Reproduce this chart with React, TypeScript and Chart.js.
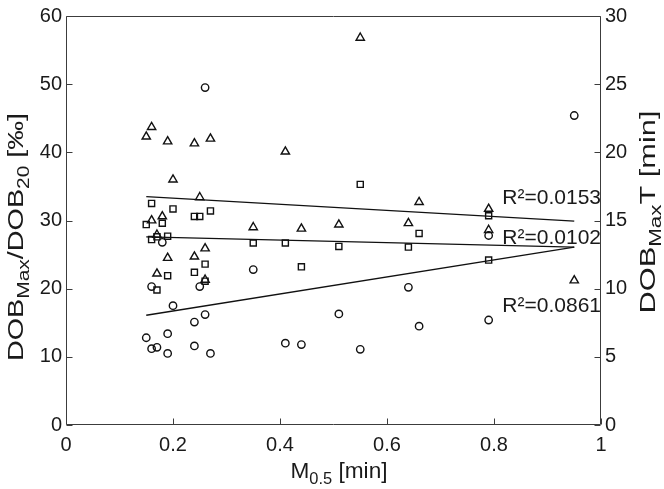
import React, { useEffect, useRef } from "react";
import { Chart, registerables } from "chart.js";

Chart.register(...registerables);

// ---- data ----
const xTickValues = [0, 0.2, 0.4, 0.6, 0.8, 1];
const xTickLabels = ["0", "0.2", "0.4", "0.6", "0.8", "1"];
const yLeftTickValues = [0, 10, 20, 30, 40, 50, 60];
const yLeftTickLabels = ["0", "10", "20", "30", "40", "50", "60"];
const yRightTickValues = [0, 5, 10, 15, 20, 25, 30];
const yRightTickLabels = ["0", "5", "10", "15", "20", "25", "30"];

// triangles: DOBMax/DOB20 [‰]
const triX = [0.15, 0.16, 0.16, 0.17, 0.17, 0.18, 0.19, 0.19, 0.2, 0.24, 0.24, 0.25, 0.26, 0.26, 0.27, 0.35, 0.41, 0.44, 0.51, 0.55, 0.64, 0.66, 0.79, 0.79, 0.95];
const triY = [42.3, 43.7, 30.0, 27.9, 22.2, 30.6, 41.6, 24.5, 36.0, 41.3, 24.7, 33.4, 25.9, 21.3, 42.0, 29.0, 40.1, 28.8, 29.4, 56.8, 29.6, 32.7, 31.7, 28.6, 21.2];

// squares: DOBMax/DOB20 [‰]
const sqX = [0.15, 0.16, 0.16, 0.17, 0.17, 0.18, 0.19, 0.19, 0.2, 0.24, 0.24, 0.25, 0.26, 0.26, 0.27, 0.35, 0.41, 0.44, 0.51, 0.55, 0.64, 0.66, 0.79, 0.79];
const sqY = [29.4, 32.5, 27.2, 27.6, 19.8, 29.6, 27.7, 21.9, 31.7, 30.6, 22.4, 30.6, 23.6, 21.1, 31.4, 26.7, 26.7, 23.2, 26.2, 35.3, 26.1, 28.1, 30.7, 24.2];

// circles: DOBMax T [min] (right axis)
const circX = [0.15, 0.16, 0.16, 0.17, 0.18, 0.19, 0.19, 0.2, 0.24, 0.24, 0.25, 0.26, 0.26, 0.27, 0.35, 0.41, 0.44, 0.51, 0.55, 0.64, 0.66, 0.79, 0.79, 0.95];
const circY = [6.4, 10.15, 5.6, 5.7, 13.4, 6.7, 5.25, 8.75, 7.55, 5.8, 10.15, 8.1, 24.75, 5.25, 11.4, 6.0, 5.9, 8.15, 5.55, 10.1, 7.25, 13.9, 7.7, 22.7];

// regression line end points
const fitX = [0.15, 0.95];
const fitTri = [33.5, 29.9];
const fitSq = [27.6, 26.1];
const fitCirc = [8.05, 13.05];

// R² annotations (x, y in left-axis units)
const r2Texts = ["R²=0.0153", "R²=0.0102", "R²=0.0861"];
const r2AnchorX = [1, 1, 1];
const r2AnchorY = [32.4, 26.6, 16.6];

const FONT = '"Liberation Sans", Arial, Helvetica, sans-serif';
const INK = "#1a1a1a";
const AXIS = "#3c3c3c";

const pts = (xs: number[], ys: number[]) => xs.map((x, i) => ({ x, y: ys[i] }));

type Part = { t: string; sub?: boolean };

// draws rich text centered at the origin (baseline y = 0), stretched to a given length
function drawRich(
  ctx: CanvasRenderingContext2D,
  parts: Part[],
  size: number,
  subSize: number,
  subDrop: number,
  targetLen: number
) {
  const widths = parts.map((p) => {
    ctx.font = `${p.sub ? subSize : size}px ${FONT}`;
    return ctx.measureText(p.t).width;
  });
  const total = widths.reduce((a, b) => a + b, 0);
  const k = targetLen / total;
  ctx.scale(k, 1);
  let x = -total / 2;
  ctx.textAlign = "left";
  ctx.textBaseline = "alphabetic";
  parts.forEach((p, i) => {
    ctx.font = `${p.sub ? subSize : size}px ${FONT}`;
    ctx.fillText(p.t, x, p.sub ? subDrop : 0);
    x += widths[i];
  });
}

const framePlugin = {
  id: "frameTicks",
  afterDatasetsDraw(chart: any) {
    const { ctx, chartArea, scales } = chart;
    const { left, right, top, bottom } = chartArea;
    const L = Math.round(left) + 0.5;
    const R = Math.round(right) - 0.5;
    const T = Math.round(top) + 0.5;
    const B = Math.round(bottom) - 0.5;
    ctx.save();
    ctx.strokeStyle = AXIS;
    ctx.lineWidth = 1;
    ctx.beginPath();
    ctx.rect(L, T, R - L, B - T);
    ctx.stroke();
    const tl = 6;
    ctx.beginPath();
    xTickValues.forEach((v) => {
      const px = Math.round(scales.x.getPixelForValue(v)) + 0.5;
      ctx.moveTo(px, B);
      ctx.lineTo(px, B - tl);
    });
    yLeftTickValues.forEach((v) => {
      const py = Math.round(scales.y.getPixelForValue(v)) + 0.5;
      ctx.moveTo(L, py);
      ctx.lineTo(L + tl, py);
    });
    yRightTickValues.forEach((v) => {
      const py = Math.round(scales.y2.getPixelForValue(v)) + 0.5;
      ctx.moveTo(R, py);
      ctx.lineTo(R - tl, py);
    });
    ctx.stroke();

    // R² labels
    ctx.fillStyle = INK;
    ctx.font = `21px ${FONT}`;
    ctx.textAlign = "right";
    ctx.textBaseline = "alphabetic";
    r2Texts.forEach((t, i) => {
      ctx.fillText(t, scales.x.getPixelForValue(r2AnchorX[i]), scales.y.getPixelForValue(r2AnchorY[i]));
    });

    // axis titles
    ctx.fillStyle = INK;
    ctx.save();
    ctx.translate(339, 478);
    drawRich(ctx, [{ t: "M" }, { t: "0.5", sub: true }, { t: " [min]" }], 22, 16, 6, 97);
    ctx.restore();

    ctx.save();
    ctx.translate(23, 237);
    ctx.rotate(-Math.PI / 2);
    drawRich(
      ctx,
      [{ t: "DOB" }, { t: "Max", sub: true }, { t: "/DOB" }, { t: "20", sub: true }, { t: " [‰]" }],
      22,
      16,
      6,
      248
    );
    ctx.restore();

    ctx.save();
    ctx.translate(655, 212);
    ctx.rotate(-Math.PI / 2);
    drawRich(ctx, [{ t: "DOB" }, { t: "Max", sub: true }, { t: "T [min]" }], 22, 16, 6, 203);
    ctx.restore();

    ctx.restore();
  },
};

export default function App() {
  const ref = useRef<HTMLCanvasElement | null>(null);

  useEffect(() => {
    document.body.style.margin = "0";
    document.body.style.overflow = "hidden";
    const canvas = ref.current;
    if (!canvas) return;

    const markerBase = {
      type: "scatter" as const,
      borderColor: "#111",
      backgroundColor: "rgba(0,0,0,0)",
      pointBorderWidth: 1.4,
      showLine: false,
    };
    const lineBase = {
      type: "scatter" as const,
      showLine: true,
      borderColor: "#111",
      borderWidth: 1.3,
      pointRadius: 0,
      fill: false,
    };

    const chart = new Chart(canvas, {
      type: "scatter",
      data: {
        datasets: [
          { ...lineBase, data: pts(fitX, fitTri), yAxisID: "y" },
          { ...lineBase, data: pts(fitX, fitSq), yAxisID: "y" },
          { ...lineBase, data: pts(fitX, fitCirc), yAxisID: "y2" },
          { ...markerBase, data: pts(triX, triY), pointStyle: "triangle", pointRadius: 4.8, yAxisID: "y" },
          { ...markerBase, data: pts(sqX, sqY), pointStyle: "rect", pointRadius: 4.3, yAxisID: "y" },
          { ...markerBase, data: pts(circX, circY), pointStyle: "circle", pointRadius: 3.7, yAxisID: "y2" },
        ] as any,
      },
      options: {
        animation: false,
        responsive: false,
        maintainAspectRatio: false,
        events: [],
        layout: { padding: { top: 15, left: 0, right: 0, bottom: 0 } },
        plugins: { legend: { display: false }, tooltip: { enabled: false } },
        scales: {
          x: {
            type: "linear",
            min: 0,
            max: 1,
            grid: { display: false, drawTicks: false },
            border: { display: false },
            afterBuildTicks: (s: any) => {
              s.ticks = xTickValues.map((v) => ({ value: v }));
            },
            afterFit: (s: any) => {
              s.height = 64;
            },
            ticks: {
              color: INK,
              font: { family: FONT, size: 20 },
              padding: 8,
              maxRotation: 0,
              autoSkip: false,
              callback: (_v: any, i: number) => xTickLabels[i],
            },
          },
          y: {
            type: "linear",
            position: "left",
            min: 0,
            max: 60,
            grid: { display: false, drawTicks: false },
            border: { display: false },
            afterBuildTicks: (s: any) => {
              s.ticks = yLeftTickValues.map((v) => ({ value: v }));
            },
            afterFit: (s: any) => {
              s.width = 66;
            },
            ticks: {
              color: INK,
              font: { family: FONT, size: 20 },
              padding: 4,
              autoSkip: false,
              callback: (_v: any, i: number) => yLeftTickLabels[i],
            },
          },
          y2: {
            type: "linear",
            position: "right",
            min: 0,
            max: 30,
            grid: { display: false, drawTicks: false },
            border: { display: false },
            afterBuildTicks: (s: any) => {
              s.ticks = yRightTickValues.map((v) => ({ value: v }));
            },
            afterFit: (s: any) => {
              s.width = 63;
            },
            ticks: {
              color: INK,
              font: { family: FONT, size: 20 },
              padding: 4,
              autoSkip: false,
              callback: (_v: any, i: number) => yRightTickLabels[i],
            },
          },
        },
      } as any,
      plugins: [framePlugin],
    });
    return () => chart.destroy();
  }, []);

  return (
    <div style={{ width: 664, height: 489, background: "#fff" }}>
      <canvas ref={ref} width={664} height={489} style={{ display: "block", width: 664, height: 489 }} />
    </div>
  );
}
